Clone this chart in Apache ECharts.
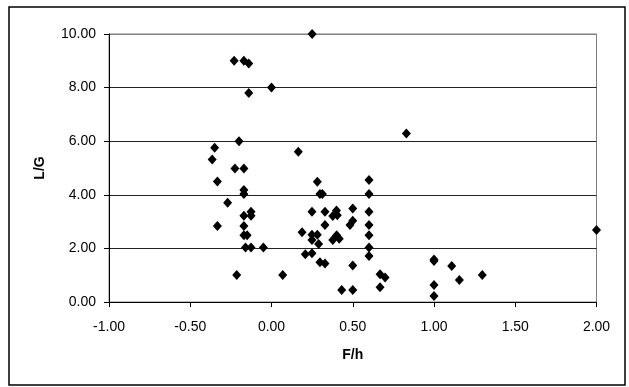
<!DOCTYPE html>
<html><head><meta charset="utf-8">
<script src="https://cdn.jsdelivr.net/npm/echarts@6/dist/echarts.min.js"></script>
<style>html,body{margin:0;padding:0;background:#fff}#c{width:629px;height:387px}</style>
</head><body><div id="c"></div>
<script>
const xTitle = 'F/h';
const yTitle = 'L/G';
const fh = [0.25,-0.23,-0.17,-0.14,-0.14,0.0,0.83,-0.2,-0.35,-0.365,0.165,-0.225,-0.17,-0.333,-0.17,-0.17,-0.27,-0.17,-0.126,-0.126,-0.333,-0.17,-0.17,-0.15,-0.16,-0.126,-0.05,-0.214,0.069,
0.282,0.298,0.313,0.249,0.329,0.40,0.377,0.405,0.5,0.5,0.483,0.329,0.188,0.249,0.282,0.249,0.29,0.377,0.401,0.417,0.208,0.249,0.298,0.329,0.5,0.432,0.5,
0.6,0.6,0.6,0.6,0.6,0.6,0.6,0.668,0.699,0.668,1.0,1.0,1.0,1.0,1.109,1.156,1.297,2.0];
const lg = [10.0,9.0,9.0,8.9,7.8,8.0,6.29,6.0,5.76,5.32,5.61,4.98,4.98,4.5,4.18,4.03,3.7,3.22,3.37,3.22,2.84,2.84,2.49,2.49,2.03,2.03,2.03,1.01,1.01,
4.49,4.03,4.03,3.37,3.37,3.41,3.21,3.24,3.49,3.03,2.87,2.87,2.6,2.51,2.51,2.31,2.16,2.31,2.49,2.36,1.78,1.82,1.48,1.44,1.36,0.45,0.45,
4.55,4.03,3.37,2.87,2.49,2.03,1.72,1.04,0.91,0.55,1.59,1.53,0.63,0.22,1.34,0.82,1.01,2.69];
const points = fh.map((x,i)=>[x,lg[i]]);
const chart = echarts.init(document.getElementById('c'));
const font = 'Liberation Sans, Arial, sans-serif';
chart.setOption({
  animation:false,
  graphic:[{type:'rect',shape:{x:9,y:7,width:616,height:378},style:{fill:'none',stroke:'#000',lineWidth:1.5},z:100}],
  grid:{left:109,top:34,width:487.5,height:268,show:true,borderColor:'#808080',borderWidth:1,backgroundColor:'transparent'},
  xAxis:{type:'value',min:-1,max:2,interval:0.5,
    name:xTitle,nameLocation:'middle',nameGap:46,
    nameTextStyle:{fontFamily:font,fontSize:14,fontWeight:'bold',color:'#000'},
    axisLine:{show:true,onZero:false,lineStyle:{color:'#000',width:1}},
    axisTick:{show:true,length:5,lineStyle:{color:'#000'}},
    axisLabel:{fontFamily:font,fontSize:14,color:'#000',margin:18,formatter:v=>v.toFixed(2)},
    splitLine:{show:false}},
  yAxis:{type:'value',min:0,max:10,interval:2,
    name:yTitle,nameLocation:'middle',nameGap:62,
    nameTextStyle:{fontFamily:font,fontSize:14,fontWeight:'bold',color:'#000'},
    axisLine:{show:true,onZero:false,lineStyle:{color:'#000',width:1}},
    axisTick:{show:true,length:5,lineStyle:{color:'#000'}},
    axisLabel:{fontFamily:font,fontSize:14,color:'#000',margin:13,formatter:v=>v.toFixed(2)},
    splitLine:{show:true,lineStyle:{color:['#000','#222','#222','#222','#222','#808080'],width:1}}},
  series:[{type:'scatter',data:points,symbol:'diamond',symbolSize:[9,10],itemStyle:{color:'#000',opacity:1}}]
});
</script></body></html>
